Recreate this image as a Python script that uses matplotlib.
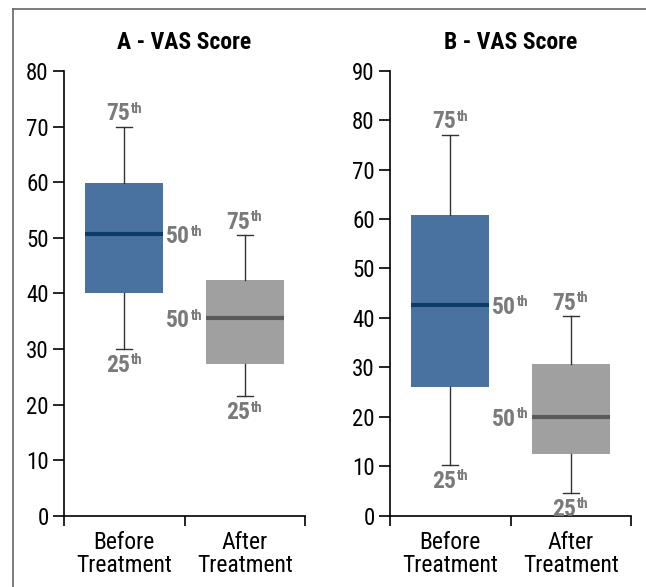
import matplotlib
matplotlib.use('Agg')
import matplotlib.pyplot as plt
from matplotlib import font_manager
from matplotlib.lines import Line2D

# pick a condensed sans if there is one
names = set(f.name for f in font_manager.fontManager.ttflist)
fam = 'DejaVu Sans'
for f in ['Liberation Sans Narrow', 'DejaVu Sans Condensed', 'Roboto Condensed', 'Liberation Sans']:
    if f in names:
        fam = f
        break
print('font:', fam)
plt.rcParams['font.family'] = [fam, 'DejaVu Sans']

categories = ['Before\nTreatment', 'After\nTreatment']

# panel A : whisker low, q1, median, q3, whisker high
a_lo = [30.0, 21.5]
a_q1 = [40.1, 27.3]
a_med = [50.6, 35.5]
a_q3 = [59.8, 42.4]
a_hi = [70.0, 50.5]

# panel B
b_lo = [10.3, 4.6]
b_q1 = [26.1, 12.4]
b_med = [42.7, 20.0]
b_q3 = [60.8, 30.6]
b_hi = [77.1, 40.4]

box_col = ['#4a72a0', '#a0a0a0']
med_col = ['#0b3d6b', '#5a5a5a']
lab_col = '#7a7a7a'

fig = plt.figure(figsize=(6.46, 5.87), dpi=100)

# outer frame (top and left only)
fig.add_artist(Line2D([0.02, 1.0], [0.9855, 0.9855], transform=fig.transFigure, color='#666666', lw=1.2))
fig.add_artist(Line2D([0.02, 0.02], [0.0, 0.9855], transform=fig.transFigure, color='#666666', lw=1.2))


def lab(ax, n, x, y, dx, dy, ha):
    t = ax.annotate(str(n), xy=(x, y), xytext=(dx, dy), textcoords='offset points',
                    ha=ha, va='baseline', color=lab_col, fontsize=17, fontweight='bold')
    ax.annotate('th', xy=(1.0, 0.0), xycoords=t, xytext=(0.5, 9), textcoords='offset points',
                ha='left', va='baseline', color=lab_col, fontsize=10.5, fontweight='bold')


def panel(ax, title, lo, q1, med, q3, hi, ymax, med_side):
    stats = []
    for i in range(2):
        stats.append({'whislo': lo[i], 'q1': q1[i], 'med': med[i], 'q3': q3[i], 'whishi': hi[i], 'fliers': []})
    b = ax.bxp(stats, positions=[0.5, 1.5], widths=0.65, capwidths=0.13, patch_artist=True,
               showfliers=False,
               whiskerprops=dict(color='#333333', lw=1),
               capprops=dict(color='#333333', lw=1))
    for i, p in enumerate(b['boxes']):
        p.set_facecolor(box_col[i])
        p.set_edgecolor(box_col[i])
        p.set_linewidth(0)
    for i, m in enumerate(b['medians']):
        m.set_color(med_col[i])
        m.set_linewidth(3)
        m.set_solid_capstyle('butt')

    for i in range(2):
        x = 0.5 + i
        lab(ax, 75, x, hi[i], 4, 4.5, 'right')
        lab(ax, 25, x, lo[i], 4, -16.5, 'right')
        if med_side[i] == 'r':
            lab(ax, 50, x + 0.325, med[i], 2, -6.5, 'left')
        else:
            lab(ax, 50, x - 0.325, med[i], -11, -6.5, 'right')

    ax.set_xlim(0, 2)
    ax.set_ylim(0, ymax)
    ax.set_xticks([0, 1, 2])
    ax.set_xticklabels([])
    ax.set_xticks([0.5, 1.5], minor=True)
    ax.set_xticklabels(categories, minor=True, fontsize=17, linespacing=1.0)
    ax.tick_params(axis='x', which='minor', length=0, pad=11)
    ax.tick_params(axis='x', which='major', length=7, width=1.2, direction='out')
    ax.tick_params(axis='y', length=8, width=1.2, pad=3, labelsize=16.5)
    ax.set_yticks(range(0, ymax + 1, 10))
    for s in ['top', 'right']:
        ax.spines[s].set_visible(False)
    for s in ['left', 'bottom']:
        ax.spines[s].set_linewidth(1.2)
    ax.set_title(title, fontsize=17, fontweight='bold', pad=16)


ax1 = fig.add_axes([0.0991, 0.1215, 0.3731, 0.7576])
panel(ax1, 'A - VAS Score', a_lo, a_q1, a_med, a_q3, a_hi, 80, ['r', 'l'])

ax2 = fig.add_axes([0.6037, 0.1215, 0.3731, 0.758])
panel(ax2, 'B - VAS Score', b_lo, b_q1, b_med, b_q3, b_hi, 90, ['r', 'l'])

fig.savefig('out.png', dpi=100)
